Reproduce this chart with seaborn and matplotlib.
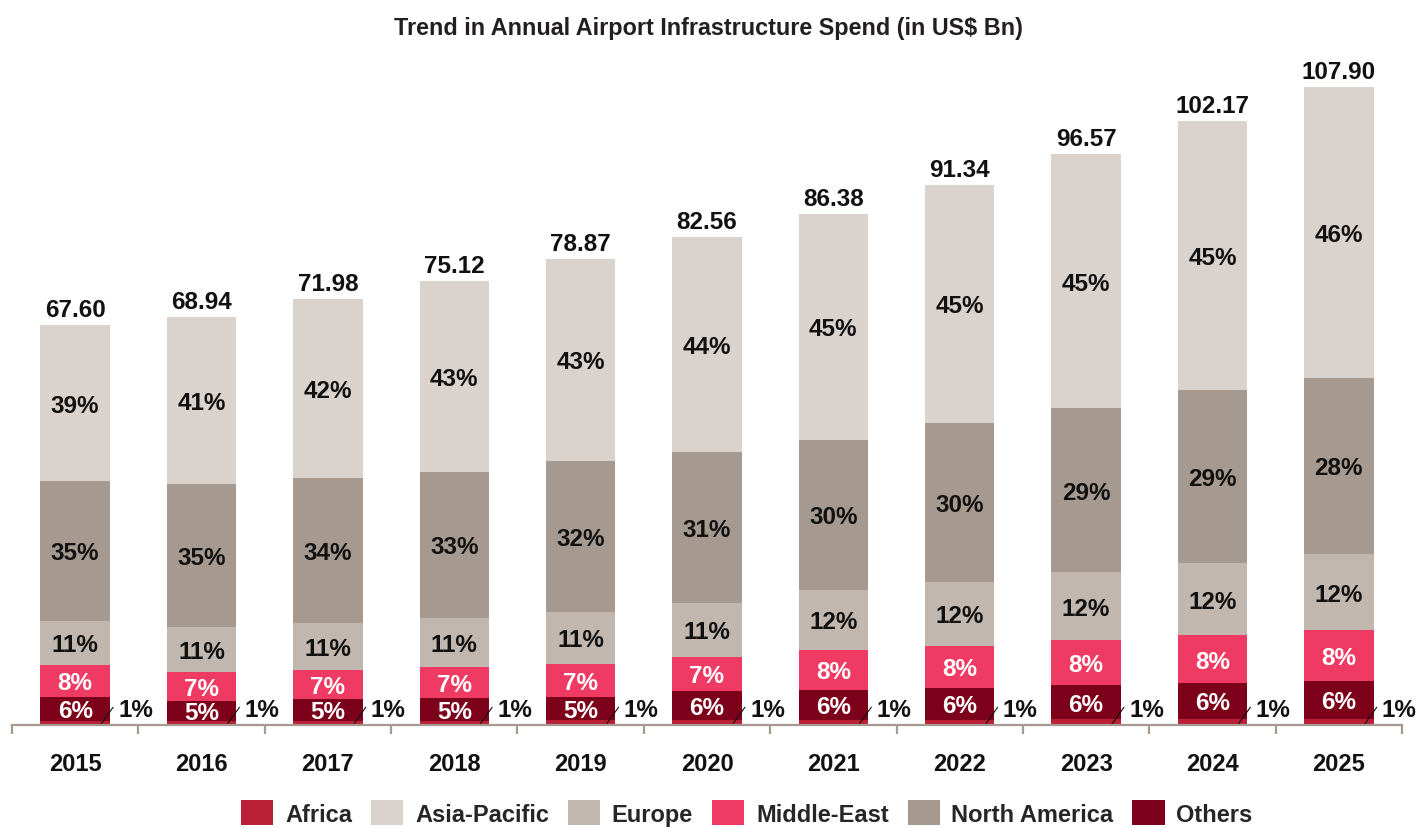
import matplotlib
matplotlib.use("Agg")
import matplotlib.pyplot as plt
import matplotlib.patches as mpatches
import seaborn as sns
import numpy as np

# Data
years = ['2015', '2016', '2017', '2018', '2019', '2020', '2021', '2022', '2023', '2024', '2025']
totals = [67.60, 68.94, 71.98, 75.12, 78.87, 82.56, 86.38, 91.34, 96.57, 102.17, 107.90]

africa_pct = [1, 1, 1, 1, 1, 1, 1, 1, 1, 1, 1]
others_pct = [6, 5, 5, 5, 5, 6, 6, 6, 6, 6, 6]
mideast_pct = [8, 7, 7, 7, 7, 7, 8, 8, 8, 8, 8]
europe_pct = [11, 11, 11, 11, 11, 11, 12, 12, 12, 12, 12]
namerica_pct = [35, 35, 34, 33, 32, 31, 30, 30, 29, 29, 28]
asiapac_pct = [39, 41, 42, 43, 43, 44, 45, 45, 45, 45, 46]

# stacking order bottom -> top
layers = [
    ('Africa', africa_pct, '#B91F35', None),
    ('Others', others_pct, '#7C0019', 'white'),
    ('Middle-East', mideast_pct, '#EF3B63', 'white'),
    ('Europe', europe_pct, '#C1B7AF', '#111111'),
    ('North America', namerica_pct, '#A69A90', '#111111'),
    ('Asia-Pacific', asiapac_pct, '#D9D2CD', '#111111'),
]
legend_order = ['Africa', 'Asia-Pacific', 'Europe', 'Middle-East', 'North America', 'Others']

sns.set_theme(style='white')
plt.rcParams['font.family'] = ['Liberation Sans', 'DejaVu Sans']
plt.rcParams['font.weight'] = 'bold'

fig = plt.figure(figsize=(14.16, 8.29), dpi=100)
ax = fig.add_axes([12 / 1416, 103 / 829, 1390 / 1416, 680 / 829])

totals_arr = np.array(totals)
pct_sum = np.sum([np.array(l[1]) for l in layers], axis=0)
bottoms = np.zeros(len(years))
bar_w = 0.55
colors = {}

for name, pct, color, txt_color in layers:
    vals = np.array(pct) / pct_sum * totals_arr
    colors[name] = color
    sns.barplot(x=years, y=vals, bottom=bottoms, order=years, color=color,
                saturation=1, width=bar_w, linewidth=0, ax=ax)
    if txt_color is not None:
        for i, (v, b, p) in enumerate(zip(vals, bottoms, pct)):
            ax.annotate(f'{p}%', xy=(i, b + v / 2), xytext=(0, -6),
                        textcoords='offset points', ha='center', va='baseline',
                        fontsize=17.5, fontweight='bold', color=txt_color)
    else:
        # small Africa share labelled outside with a leader line
        for i, p in enumerate(pct):
            ax.plot([i + 0.205, i + 0.30], [0.17, 3.0], color='#111111', lw=0.8)
            ax.annotate(f'{p}%', xy=(i + bar_w / 2, 0), xytext=(6, 6.2),
                        textcoords='offset points', ha='left', va='baseline',
                        fontsize=17.5, fontweight='bold', color='#111111')
    bottoms = bottoms + vals

for i, t in enumerate(totals):
    ax.annotate(f'{t:.2f}', xy=(i, t), xytext=(0, 6.5), textcoords='offset points',
                ha='center', va='baseline', fontsize=17.5, fontweight='bold', color='#111111')

ax.set_xlim(-0.5, len(years) - 0.5)
ax.set_ylim(0, 115)
ax.set_xlabel('')
ax.set_ylabel('')
ax.set_yticks([])
for s in ['top', 'left', 'right']:
    ax.spines[s].set_visible(False)
ax.spines['bottom'].set_color('#A69A90')
ax.spines['bottom'].set_linewidth(1.6)

ax.set_xticks(np.arange(-0.5, len(years)), minor=True)
ax.tick_params(axis='x', which='minor', length=6.5, width=1.6, color='#A69A90', bottom=True)
ax.tick_params(axis='x', which='major', length=0, pad=19.5, labelsize=17, labelcolor='#111111')
for lab in ax.get_xticklabels():
    lab.set_fontweight('bold')

fig.text(0.5, 1 - 29 / 829, 'Trend in Annual Airport Infrastructure Spend (in US$ Bn)',
         ha='center', va='center', fontsize=16.8, fontweight='bold', color='#231F20')

handles = [mpatches.Patch(facecolor=colors[n], edgecolor='none', label=n) for n in legend_order]
fig.legend(handles=handles, loc='center', bbox_to_anchor=(747 / 1416, 15 / 829), ncol=6,
           frameon=False, handlelength=1.36, handleheight=1.2,
           handletextpad=0.5, columnspacing=0.8, prop={'weight': 'bold', 'size': 17})

fig.savefig('out.png', dpi=100)
